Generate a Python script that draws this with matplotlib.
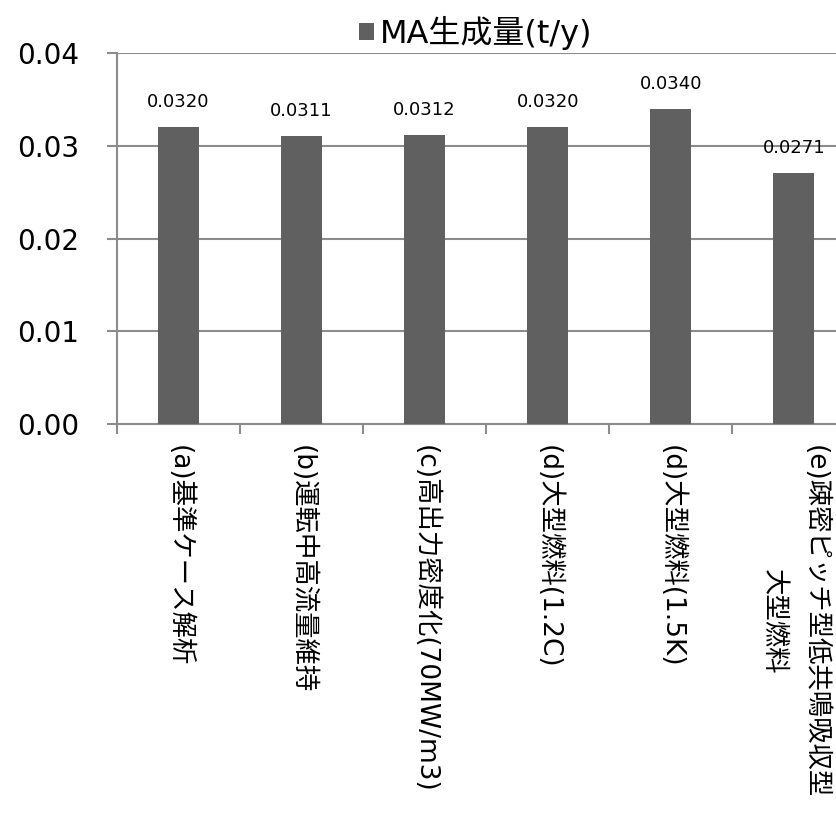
import matplotlib
matplotlib.use("Agg")
import matplotlib.pyplot as plt
from matplotlib.ticker import FixedLocator, FormatStrFormatter

plt.rcParams['font.family'] = ['DejaVu Sans', 'Noto Sans CJK JP']

categories = [
    "(a)基準ケース解析",
    "(b)運転中高流量維持",
    "(c)高出力密度化(70MW/m3)",
    "(d)大型燃料(1.2C)",
    "(d)大型燃料(1.5K)",
    "(e)疎密ピッチ型低共鳴吸収型\n大型燃料",
]
ma_values = [0.0320, 0.0311, 0.0312, 0.0320, 0.0340, 0.0271]
series_name = "MA生成量(t/y)"
y_ticks = [0.00, 0.01, 0.02, 0.03, 0.04]

bar_color = "#606060"
grid_color = "#8c8c8c"

fig = plt.figure(figsize=(8.36, 8.25), dpi=100)
# plot area runs past the right edge of the figure
ax = fig.add_axes([0.140, 0.486, 0.883, 0.4494])

x = list(range(len(categories)))
bars = ax.bar(x, ma_values, width=0.333, color=bar_color, label=series_name, zorder=3)

for xi, v in zip(x, ma_values):
    ax.annotate(f"{v:.4f}", (xi, v), xytext=(0, 11.5), textcoords="offset points",
                ha="center", va="bottom", fontsize=13, family="DejaVu Sans")

ax.set_xlim(-0.5, len(categories) - 0.5)
ax.set_ylim(0, 0.04)
ax.set_yticks(y_ticks)
ax.yaxis.set_major_formatter(FormatStrFormatter("%.2f"))
ax.yaxis.grid(True, color=grid_color, linewidth=1.5, zorder=0)
ax.tick_params(axis="y", length=7, width=1.5, color=grid_color, pad=20, labelsize=20)

ax.set_xticks(x)
ax.set_xticklabels(categories, rotation=-90, ha="center", va="top",
                   multialignment="center", fontsize=19, linespacing=1.8)
ax.xaxis.set_minor_locator(FixedLocator([i - 0.5 for i in range(len(categories) + 1)]))
ax.tick_params(axis="x", which="major", length=0, pad=15)
ax.tick_params(axis="x", which="minor", length=7, width=1.5, color=grid_color)

for side in ["top", "right"]:
    ax.spines[side].set_visible(False)
for side in ["left", "bottom"]:
    ax.spines[side].set_color(grid_color)
    ax.spines[side].set_linewidth(1.5)

fig.legend(handles=[bars], labels=[series_name], loc="center",
           bbox_to_anchor=(476 / 836, 1 - 33 / 825), frameon=False,
           fontsize=23, handlelength=0.45, handleheight=0.45, handletextpad=0.2)

fig.savefig("out.png", dpi=100)
